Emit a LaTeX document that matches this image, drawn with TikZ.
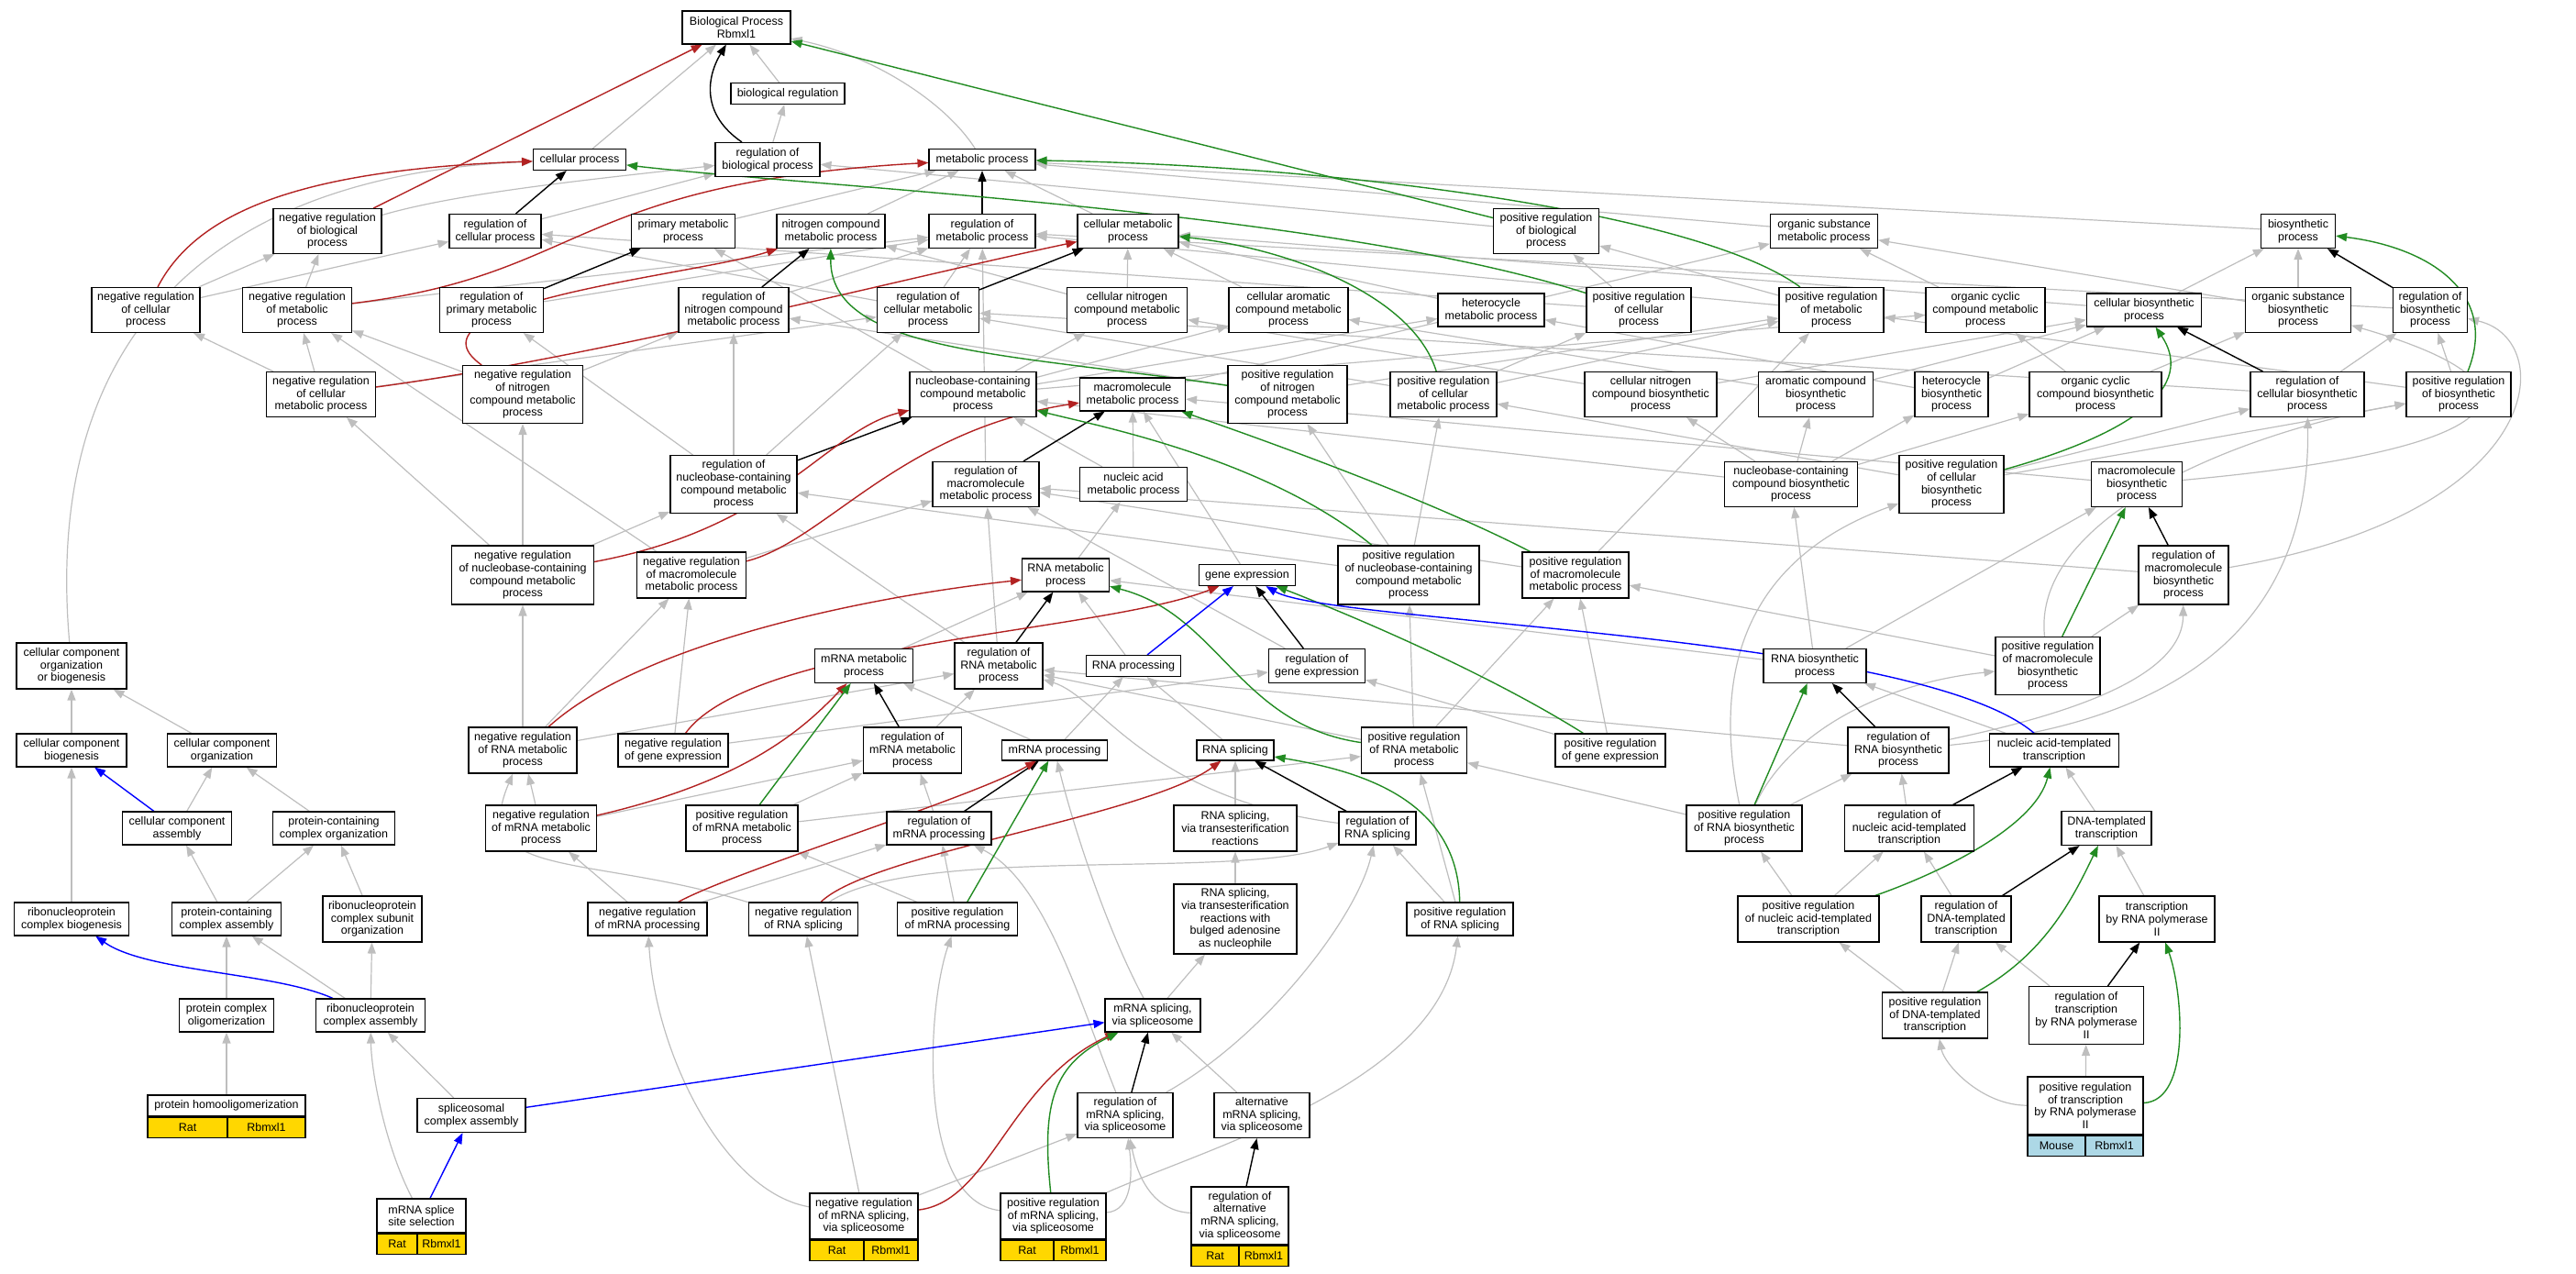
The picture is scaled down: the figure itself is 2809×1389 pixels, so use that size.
\documentclass[tikz,border=0pt]{standalone}
\usepackage{fontspec}
\setmainfont{Liberation Sans}
\usetikzlibrary{arrows.meta}
\definecolor{edgegray}{HTML}{BEBEBE}
\definecolor{negred}{HTML}{B22222}
\definecolor{posgreen}{HTML}{228B22}
\definecolor{annotgold}{HTML}{FFD700}
\definecolor{annotblue}{HTML}{ADD8E6}
\pgfdeclarelayer{edges}
\pgfsetlayers{edges,main}
\newcommand{\gofont}{\fontsize{12.5}{13.7}\selectfont}

\begin{document}
\begin{tikzpicture}[x=1pt, y=-1pt,
term/.style={draw, line width=1.1pt, fill=white, align=center, inner sep=1pt, font=\gofont},
annot/.style={draw, line width=1.1pt, fill=annotgold, inner sep=0pt, minimum height=22, font=\gofont},
isa/.style={draw=edgegray, line width=1.2pt, -{Triangle[length=12pt, width=9pt]}},
reg/.style={draw=black, line width=1.4pt, -{Triangle[length=12pt, width=9pt]}},
negreg/.style={reg, draw=negred},
posreg/.style={reg, draw=posgreen},
partof/.style={reg, draw=blue}]
\useasboundingbox (0,0) rectangle (2809,1389);

% top rows
\node[term, minimum width=118, minimum height=36] (bp) at (803,30) {Biological Process\\Rbmxl1};
\node[term, minimum width=124, minimum height=23] (breg) at (859,102) {biological regulation};
\node[term, minimum width=101, minimum height=23] (cp) at (632,174) {cellular process};
\node[term, minimum width=114, minimum height=37] (rbp) at (837,174) {regulation of\\biological process};
\node[term, minimum width=116, minimum height=23] (mp) at (1071,174) {metabolic process};

\node[term, minimum width=118, minimum height=49] (nrbp) at (357,252) {negative regulation\\of biological\\process};
\node[term, minimum width=100, minimum height=37] (rcp) at (540,252) {regulation of\\cellular process};
\node[term, minimum width=113, minimum height=37] (pmp) at (745,252) {primary metabolic\\process};
\node[term, minimum width=118, minimum height=37] (ncmp) at (906,252) {nitrogen compound\\metabolic process};
\node[term, minimum width=116, minimum height=37] (rmp) at (1071,252) {regulation of\\metabolic process};
\node[term, minimum width=110, minimum height=37] (cmp) at (1230,252) {cellular metabolic\\process};
\node[term, minimum width=115, minimum height=49] (prbp) at (1686,252) {positive regulation\\of biological\\process};
\node[term, minimum width=117, minimum height=37] (osmp) at (1989,252) {organic substance\\metabolic process};
\node[term, minimum width=81, minimum height=37] (bsp) at (2506,252) {biosynthetic\\process};

\node[term, minimum width=118, minimum height=49] (nrcp) at (159,338) {negative regulation\\of cellular\\process};
\node[term, minimum width=119, minimum height=49] (nrmp) at (324,338) {negative regulation\\of metabolic\\process};
\node[term, minimum width=113, minimum height=49] (rpmp) at (536,338) {regulation of\\primary metabolic\\process};
\node[term, minimum width=120, minimum height=49] (rncmp) at (800,338) {regulation of\\nitrogen compound\\metabolic process};
\node[term, minimum width=111, minimum height=49] (rcmp) at (1012,338) {regulation of\\cellular metabolic\\process};
\node[term, minimum width=131, minimum height=49] (cncmp) at (1229,338) {cellular nitrogen\\compound metabolic\\process};
\node[term, minimum width=130, minimum height=49] (camp) at (1405,338) {cellular aromatic\\compound metabolic\\process};
\node[term, minimum width=116, minimum height=36] (hmp) at (1626,338) {heterocycle\\metabolic process};
\node[term, minimum width=114, minimum height=49] (prcp) at (1787,338) {positive regulation\\of cellular\\process};
\node[term, minimum width=114, minimum height=49] (prmp) at (1997,338) {positive regulation\\of metabolic\\process};
\node[term, minimum width=130, minimum height=49] (occmp) at (2165,338) {organic cyclic\\compound metabolic\\process};
\node[term, minimum width=125, minimum height=36] (cbp) at (2338,338) {cellular biosynthetic\\process};
\node[term, minimum width=115, minimum height=49] (osbp) at (2506,338) {organic substance\\biosynthetic\\process};
\node[term, minimum width=81, minimum height=49] (rbsp) at (2650,338) {regulation of\\biosynthetic\\process};

\node[term, minimum width=119, minimum height=49] (nrcmp) at (350,430) {negative regulation\\of cellular\\metabolic process};
\node[term, minimum width=131, minimum height=63] (nrncmp) at (570,430) {negative regulation\\of nitrogen\\compound metabolic\\process};
\node[term, minimum width=138, minimum height=49] (nbmp) at (1061,430) {nucleobase-containing\\compound metabolic\\process};
\node[term, minimum width=115, minimum height=36] (mmp) at (1235,430) {macromolecule\\metabolic process};
\node[term, minimum width=130, minimum height=63] (prncmp) at (1404,430) {positive regulation\\of nitrogen\\compound metabolic\\process};
\node[term, minimum width=116, minimum height=49] (prcmp) at (1574,430) {positive regulation\\of cellular\\metabolic process};
\node[term, minimum width=144, minimum height=49] (cncbp) at (1800,430) {cellular nitrogen\\compound biosynthetic\\process};
\node[term, minimum width=125, minimum height=49] (acbp) at (1980,430) {aromatic compound\\biosynthetic\\process};
\node[term, minimum width=80, minimum height=49] (hbp) at (2128,430) {heterocycle\\biosynthetic\\process};
\node[term, minimum width=144, minimum height=49] (occbp) at (2285,430) {organic cyclic\\compound biosynthetic\\process};
\node[term, minimum width=124, minimum height=49] (rcbp) at (2516,430) {regulation of\\cellular biosynthetic\\process};
\node[term, minimum width=114, minimum height=49] (prbsp) at (2681,430) {positive regulation\\of biosynthetic\\process};

% middle rows
\node[term, minimum width=138, minimum height=63] (rnbmp) at (800,528) {regulation of\\nucleobase-containing\\compound metabolic\\process};
\node[term, minimum width=116, minimum height=49] (rmmp) at (1075,528) {regulation of\\macromolecule\\metabolic process};
\node[term, minimum width=117, minimum height=37] (namp) at (1236,528) {nucleic acid\\metabolic process};
\node[term, minimum width=145, minimum height=49] (nbbp) at (1953,528) {nucleobase-containing\\compound biosynthetic\\process};
\node[term, minimum width=114, minimum height=63] (prcbp) at (2128,528) {positive regulation\\of cellular\\biosynthetic\\process};
\node[term, minimum width=99, minimum height=49] (mbp) at (2330,528) {macromolecule\\biosynthetic\\process};

\node[term, minimum width=155, minimum height=64] (nrnbmp) at (570,627) {negative regulation\\of nucleobase-containing\\compound metabolic\\process};
\node[term, minimum width=119, minimum height=50] (nrmmp) at (754,627) {negative regulation\\of macromolecule\\metabolic process};
\node[term, minimum width=95, minimum height=36] (rnamp) at (1162,627) {RNA metabolic\\process};
\node[term, minimum width=105, minimum height=23] (ge) at (1360,627) {gene expression};
\node[term, minimum width=154, minimum height=64] (prnbmp) at (1536,627) {positive regulation\\of nucleobase-containing\\compound metabolic\\process};
\node[term, minimum width=116, minimum height=50] (prmmp) at (1718,627) {positive regulation\\of macromolecule\\metabolic process};
\node[term, minimum width=98, minimum height=64] (rmbp) at (2381,627) {regulation of\\macromolecule\\biosynthetic\\process};

\node[term, minimum width=120, minimum height=50] (ccob) at (78,726) {cellular component\\organization\\or biogenesis};
\node[term, minimum width=107, minimum height=37] (mrmp) at (942,726) {mRNA metabolic\\process};
\node[term, minimum width=96, minimum height=50] (rrnamp) at (1089,726) {regulation of\\RNA metabolic\\process};
\node[term, minimum width=103, minimum height=23] (rnap) at (1236,726) {RNA processing};
\node[term, minimum width=105, minimum height=37] (rge) at (1436,726) {regulation of\\gene expression};
\node[term, minimum width=112, minimum height=37] (rnabp) at (1979,726) {RNA biosynthetic\\process};
\node[term, minimum width=114, minimum height=63] (prmbp) at (2233,726) {positive regulation\\of macromolecule\\biosynthetic\\process};

\node[term, minimum width=120, minimum height=36] (ccb) at (78,818) {cellular component\\biogenesis};
\node[term, minimum width=119, minimum height=36] (cco) at (242,818) {cellular component\\organization};
\node[term, minimum width=118, minimum height=50] (nrrnamp) at (570,818) {negative regulation\\of RNA metabolic\\process};
\node[term, minimum width=120, minimum height=36] (nrge) at (734,818) {negative regulation\\of gene expression};
\node[term, minimum width=107, minimum height=50] (rmrmp) at (995,818) {regulation of\\mRNA metabolic\\process};
\node[term, minimum width=115, minimum height=22] (mrp) at (1150,818) {mRNA processing};
\node[term, minimum width=84, minimum height=22] (rnas) at (1347,818) {RNA splicing};
\node[term, minimum width=115, minimum height=50] (prrnamp) at (1542,818) {positive regulation\\of RNA metabolic\\process};
\node[term, minimum width=120, minimum height=36] (prge) at (1756,818) {positive regulation\\of gene expression};
\node[term, minimum width=110, minimum height=50] (rrnabp) at (2070,818) {regulation of\\RNA biosynthetic\\process};
\node[term, minimum width=141, minimum height=36] (natt) at (2240,818) {nucleic acid-templated\\transcription};

% lower rows
\node[term, minimum width=119, minimum height=36] (cca) at (193,903) {cellular component\\assembly};
\node[term, minimum width=133, minimum height=36] (pcco) at (364,903) {protein-containing\\complex organization};
\node[term, minimum width=121, minimum height=50] (nrmrmp) at (590,903) {negative regulation\\of mRNA metabolic\\process};
\node[term, minimum width=122, minimum height=50] (prmrmp) at (809,903) {positive regulation\\of mRNA metabolic\\process};
\node[term, minimum width=114, minimum height=36] (rmrp) at (1024,903) {regulation of\\mRNA processing};
\node[term, minimum width=134, minimum height=50] (rnast) at (1347,903) {RNA splicing,\\via transesterification\\reactions};
\node[term, minimum width=84, minimum height=36] (rrnas) at (1502,903) {regulation of\\RNA splicing};
\node[term, minimum width=126, minimum height=50] (prrnabp) at (1902,903) {positive regulation\\of RNA biosynthetic\\process};
\node[term, minimum width=141, minimum height=50] (rnatt) at (2082,903) {regulation of\\nucleic acid-templated\\transcription};
\node[term, minimum width=98, minimum height=37] (dtt) at (2297,903) {DNA-templated\\transcription};

\node[term, minimum width=125, minimum height=36] (rnpcb) at (78,1002) {ribonucleoprotein\\complex biogenesis};
\node[term, minimum width=119, minimum height=36] (pcca) at (247,1002) {protein-containing\\complex assembly};
\node[term, minimum width=108, minimum height=50] (rnpcso) at (406,1002) {ribonucleoprotein\\complex subunit\\organization};
\node[term, minimum width=130, minimum height=36] (nrmrp) at (706,1002) {negative regulation\\of mRNA processing};
\node[term, minimum width=119, minimum height=36] (nrrnas) at (876,1002) {negative regulation\\of RNA splicing};
\node[term, minimum width=131, minimum height=36] (prmrp) at (1044,1002) {positive regulation\\of mRNA processing};
\node[term, minimum width=134, minimum height=76] (rnasb) at (1347,1002) {RNA splicing,\\via transesterification\\reactions with\\bulged adenosine\\as nucleophile};
\node[term, minimum width=116, minimum height=36] (prrnas) at (1592,1002) {positive regulation\\of RNA splicing};
\node[term, minimum width=154, minimum height=50] (prnatt) at (1972,1002) {positive regulation\\of nucleic acid-templated\\transcription};
\node[term, minimum width=98, minimum height=50] (rdtt) at (2144,1002) {regulation of\\DNA-templated\\transcription};
\node[term, minimum width=126, minimum height=50] (trp) at (2352,1002) {transcription\\by RNA polymerase\\II};

\node[term, minimum width=103, minimum height=36] (pco) at (247,1107) {protein complex\\oligomerization};
\node[term, minimum width=119, minimum height=36] (rnpca) at (404,1107) {ribonucleoprotein\\complex assembly};
\node[term, minimum width=104, minimum height=36] (mss) at (1257,1107) {mRNA splicing,\\via spliceosome};
\node[term, minimum width=115, minimum height=50] (prdtt) at (2110,1107) {positive regulation\\of DNA-templated\\transcription};
\node[term, minimum width=125, minimum height=63] (rtrp) at (2275,1107) {regulation of\\transcription\\by RNA polymerase\\II};

\node[term, minimum width=118, minimum height=37] (sca) at (514,1216) {spliceosomal\\complex assembly};
\node[term, minimum width=104, minimum height=49] (rmss) at (1227,1216) {regulation of\\mRNA splicing,\\via spliceosome};
\node[term, minimum width=104, minimum height=49] (amss) at (1376,1216) {alternative\\mRNA splicing,\\via spliceosome};

% annotated terms
\node[term, minimum width=172, minimum height=23] (pho) at (247,1205.5) {protein homooligomerization};
\node[annot, anchor=north west, minimum width=87] (phoA) at (pho.south west) {Rat};
\node[annot, anchor=north east, minimum width=85] (phoB) at (pho.south east) {Rbmxl1};

\node[term, minimum width=97, minimum height=37] (msss) at (459.5,1325.5) {mRNA splice\\site selection};
\node[annot, anchor=north west, minimum width=44] (msssA) at (msss.south west) {Rat};
\node[annot, anchor=north east, minimum width=53] (msssB) at (msss.south east) {Rbmxl1};

\node[term, minimum width=118, minimum height=50] (nrmss) at (942,1326) {negative regulation\\of mRNA splicing,\\via spliceosome};
\node[annot, anchor=north west, minimum width=59] (nrmssA) at (nrmss.south west) {Rat};
\node[annot, anchor=north east, minimum width=59] (nrmssB) at (nrmss.south east) {Rbmxl1};

\node[term, minimum width=115, minimum height=50] (prmss) at (1148.5,1326) {positive regulation\\of mRNA splicing,\\via spliceosome};
\node[annot, anchor=north west, minimum width=58] (prmssA) at (prmss.south west) {Rat};
\node[annot, anchor=north east, minimum width=57] (prmssB) at (prmss.south east) {Rbmxl1};

\node[term, minimum width=106, minimum height=63] (rams) at (1352,1325.5) {regulation of\\alternative\\mRNA splicing,\\via spliceosome};
\node[annot, anchor=north west, minimum width=52] (ramsA) at (rams.south west) {Rat};
\node[annot, anchor=north east, minimum width=54] (ramsB) at (rams.south east) {Rbmxl1};

\node[term, minimum width=126, minimum height=63] (prtrp) at (2274,1205.5) {positive regulation\\of transcription\\by RNA polymerase\\II};
\node[annot, fill=annotblue, anchor=north west, minimum width=63] (prtrpA) at (prtrp.south west) {Mouse};
\node[annot, fill=annotblue, anchor=north east, minimum width=63] (prtrpB) at (prtrp.south east) {Rbmxl1};

\begin{pgfonlayer}{edges}
% is_a
\draw[isa] (breg) -- (bp);
\draw[isa] (cp) -- (bp);
\draw[isa] (mp) .. controls (1030,110) and (950,60) .. (bp);
\draw[isa] (rbp) -- (breg);
\draw[isa] (nrbp) .. controls (500,210) and (650,195) .. (rbp);
\draw[isa] (rcp) -- (rbp);
\draw[isa] (ccob) .. controls (45,350) and (250,190) .. (cp);
\draw[isa] (pmp) -- (mp);
\draw[isa] (ncmp) -- (mp);
\draw[isa] (cmp) -- (mp);
\draw[isa] (osmp) -- (mp);
\draw[isa] (bsp) -- (mp);
\draw[isa] (nrcp) -- (nrbp);
\draw[isa] (nrcp) -- (rcp);
\draw[isa] (nrmp) -- (nrbp);
\draw[isa] (nrmp) -- (rmp);
\draw[isa] (rpmp) -- (rmp);
\draw[isa] (rncmp) -- (rmp);
\draw[isa] (rcmp) -- (rmp);
\draw[isa] (rcmp) -- (rcp);
\draw[isa] (prbp) -- (rbp);
\draw[isa] (prcp) -- (rcp);
\draw[isa] (prcp) -- (prbp);
\draw[isa] (prmp) -- (rmp);
\draw[isa] (prmp) -- (prbp);
\draw[isa] (rbsp) -- (rmp);
\draw[isa] (nrcmp) -- (nrcp);
\draw[isa] (nrcmp) -- (nrmp);
\draw[isa] (nrcmp) -- (rcmp);
\draw[isa] (nrncmp) -- (nrmp);
\draw[isa] (nrncmp) -- (rncmp);
\draw[isa] (cncmp) -- (cmp);
\draw[isa] (cncmp) -- (ncmp);
\draw[isa] (camp) -- (cmp);
\draw[isa] (hmp) -- (cmp);
\draw[isa] (occmp) -- (osmp);
\draw[isa] (cbp) -- (bsp);
\draw[isa] (cbp) -- (cmp);
\draw[isa] (osbp) -- (bsp);
\draw[isa] (osbp) -- (osmp);
\draw[isa] (nbmp) -- (cncmp);
\draw[isa] (nbmp) -- (camp);
\draw[isa] (nbmp) -- (hmp);
\draw[isa] (nbmp) -- (occmp);
\draw[isa] (nbmp) -- (pmp);
\draw[isa] (mmp) -- (osmp);
\draw[isa] (prncmp) -- (rncmp);
\draw[isa] (prncmp) -- (prmp);
\draw[isa] (prcmp) -- (prcp);
\draw[isa] (prcmp) -- (rcmp);
\draw[isa] (prcmp) -- (prmp);
\draw[isa] (cncbp) -- (cncmp);
\draw[isa] (cncbp) -- (cbp);
\draw[isa] (acbp) -- (camp);
\draw[isa] (acbp) -- (cbp);
\draw[isa] (hbp) -- (hmp);
\draw[isa] (hbp) -- (cbp);
\draw[isa] (occbp) -- (occmp);
\draw[isa] (occbp) -- (osbp);
\draw[isa] (rcbp) -- (rbsp);
\draw[isa] (rcbp) -- (rcmp);
\draw[isa] (prbsp) -- (rbsp);
\draw[isa] (prbsp) -- (prmp);
\draw[isa] (rnbmp) -- (rncmp);
\draw[isa] (rnbmp) -- (rpmp);
\draw[isa] (rnbmp) -- (rcmp);
\draw[isa] (rmmp) -- (rmp);
\draw[isa] (namp) -- (nbmp);
\draw[isa] (namp) -- (mmp);
\draw[isa] (nbbp) -- (nbmp);
\draw[isa] (nbbp) -- (cncbp);
\draw[isa] (nbbp) -- (acbp);
\draw[isa] (nbbp) -- (hbp);
\draw[isa] (nbbp) -- (occbp);
\draw[isa] (prcbp) -- (rcbp);
\draw[isa] (prcbp) -- (prcmp);
\draw[isa] (prcbp) -- (prbsp);
\draw[isa] (mbp) -- (mmp);
\draw[isa] (mbp) .. controls (2750,490) and (2790,420) .. (osbp);
\draw[isa] (nrnbmp) -- (rnbmp);
\draw[isa] (nrnbmp) -- (nrcmp);
\draw[isa] (nrnbmp) -- (nrncmp);
\draw[isa] (nrmmp) -- (rmmp);
\draw[isa] (nrmmp) -- (nrmp);
\draw[isa] (rnamp) -- (namp);
\draw[isa] (ge) -- (mmp);
\draw[isa] (prnbmp) -- (rnbmp);
\draw[isa] (prnbmp) -- (prcmp);
\draw[isa] (prnbmp) -- (prncmp);
\draw[isa] (prmmp) -- (rmmp);
\draw[isa] (prmmp) -- (prmp);
\draw[isa] (rmbp) -- (rmmp);
\draw[isa] (rmbp) .. controls (2780,560) and (2790,370) .. (rbsp);
\draw[isa] (ccb) -- (ccob);
\draw[isa] (cco) -- (ccob);
\draw[isa] (mrmp) -- (rnamp);
\draw[isa] (rrnamp) -- (rnbmp);
\draw[isa] (rrnamp) -- (rmmp);
\draw[isa] (rnap) -- (rnamp);
\draw[isa] (rge) -- (rmmp);
\draw[isa] (rnabp) -- (nbbp);
\draw[isa] (rnabp) -- (rnamp);
\draw[isa] (rnabp) -- (mbp);
\draw[isa] (prmbp) -- (rmbp);
\draw[isa] (prmbp) -- (prmmp);
\draw[isa] (prmbp) .. controls (2215,560) and (2450,470) .. (prbsp);
\draw[isa] (nrrnamp) -- (rrnamp);
\draw[isa] (nrrnamp) -- (nrnbmp);
\draw[isa] (nrrnamp) -- (nrmmp);
\draw[isa] (nrge) -- (rge);
\draw[isa] (nrge) -- (nrmmp);
\draw[isa] (rmrmp) -- (rrnamp);
\draw[isa] (mrp) -- (mrmp);
\draw[isa] (mrp) -- (rnap);
\draw[isa] (rnas) -- (rnap);
\draw[isa] (prrnamp) -- (rrnamp);
\draw[isa] (prrnamp) -- (prnbmp);
\draw[isa] (prrnamp) -- (prmmp);
\draw[isa] (prge) -- (rge);
\draw[isa] (prge) -- (prmmp);
\draw[isa] (rrnabp) -- (rrnamp);
\draw[isa] (rrnabp) .. controls (2250,780) and (2380,740) .. (rmbp);
\draw[isa] (rrnabp) .. controls (2350,790) and (2520,700) .. (rcbp);
\draw[isa] (natt) -- (rnabp);
\draw[isa] (cca) -- (cco);
\draw[isa] (pcco) -- (cco);
\draw[isa] (nrmrmp) -- (nrrnamp);
\draw[isa] (nrmrmp) -- (rmrmp);
\draw[isa] (prmrmp) -- (rmrmp);
\draw[isa] (prmrmp) -- (prrnamp);
\draw[isa] (rmrp) -- (rmrmp);
\draw[isa] (rnast) -- (rnas);
\draw[isa] (rrnas) .. controls (1250,870) and (1200,760) .. (rrnamp);
\draw[isa] (prrnabp) -- (rrnabp);
\draw[isa] (prrnabp) -- (prrnamp);
\draw[isa] (prrnabp) .. controls (1860,700) and (1930,600) .. (prcbp);
\draw[isa] (prrnabp) .. controls (1950,800) and (2050,745) .. (prmbp);
\draw[isa] (rnatt) -- (rrnabp);
\draw[isa] (dtt) -- (natt);
\draw[isa] (rnpcb) -- (ccb);
\draw[isa] (pcca) -- (cca);
\draw[isa] (pcca) -- (pcco);
\draw[isa] (rnpcso) -- (pcco);
\draw[isa] (nrmrp) -- (nrmrmp);
\draw[isa] (nrmrp) -- (rmrp);
\draw[isa] (nrrnas) .. controls (640,930) and (510,960) .. (nrrnamp);
\draw[isa] (nrrnas) .. controls (1000,920) and (1350,960) .. (rrnas);
\draw[isa] (prmrp) -- (rmrp);
\draw[isa] (prmrp) -- (prmrmp);
\draw[isa] (rnasb) -- (rnast);
\draw[isa] (prrnas) -- (rrnas);
\draw[isa] (prrnas) -- (prrnamp);
\draw[isa] (prnatt) -- (rnatt);
\draw[isa] (prnatt) -- (prrnabp);
\draw[isa] (rdtt) -- (rnatt);
\draw[isa] (trp) -- (dtt);
\draw[isa] (pco) -- (pcca);
\draw[isa] (rnpca) -- (pcca);
\draw[isa] (rnpca) -- (rnpcso);
\draw[isa] (mss) -- (rnasb);
\draw[isa] (mss) .. controls (1200,1000) and (1165,880) .. (mrp);
\draw[isa] (prdtt) -- (prnatt);
\draw[isa] (prdtt) -- (rdtt);
\draw[isa] (rtrp) -- (rdtt);
\draw[isa] (pho) -- (pco);
\draw[isa] (sca) -- (rnpca);
\draw[isa] (msss) .. controls (420,1250) and (405,1170) .. (rnpca);
\draw[isa] (rmss) .. controls (1380,1130) and (1480,1000) .. (rrnas);
\draw[isa] (rmss) .. controls (1180,1100) and (1140,960) .. (rmrp);
\draw[isa] (amss) -- (mss);
\draw[isa] (nrmss) -- (nrrnas);
\draw[isa] (nrmss) -- (rmss);
\draw[isa] (nrmss) .. controls (790,1300) and (715,1150) .. (nrmrp);
\draw[isa] (prmss) .. controls (1000,1310) and (1010,1100) .. (prmrp);
\draw[isa] (prmss) .. controls (1235,1320) and (1235,1280) .. (rmss);
\draw[isa] (prmss) .. controls (1320,1250) and (1570,1180) .. (prrnas);
\draw[isa] (rams) .. controls (1255,1320) and (1240,1280) .. (rmss);
\draw[isa] (prtrp) -- (rtrp);
\draw[isa] (prtrp) .. controls (2160,1205) and (2120,1160) .. (prdtt);

% regulates
\draw[reg] (rbp) .. controls (765,125) and (770,85) .. (bp);
\draw[reg] (rcp) -- (cp);
\draw[reg] (rmp) -- (mp);
\draw[reg] (rpmp) -- (pmp);
\draw[reg] (rncmp) -- (ncmp);
\draw[reg] (rcmp) -- (cmp);
\draw[reg] (rnbmp) -- (nbmp);
\draw[reg] (rmmp) -- (mmp);
\draw[reg] (rrnamp) -- (rnamp);
\draw[reg] (rge) -- (ge);
\draw[reg] (rmrmp) -- (mrmp);
\draw[reg] (rmrp) -- (mrp);
\draw[reg] (rrnas) -- (rnas);
\draw[reg] (rmss) -- (mss);
\draw[reg] (rams) -- (amss);
\draw[reg] (rbsp) -- (bsp);
\draw[reg] (rcbp) -- (cbp);
\draw[reg] (rmbp) -- (mbp);
\draw[reg] (rrnabp) -- (rnabp);
\draw[reg] (rnatt) -- (natt);
\draw[reg] (rdtt) -- (dtt);
\draw[reg] (rtrp) -- (trp);

% negatively regulates
\draw[negreg] (nrbp) -- (bp);
\draw[negreg] (nrcp) .. controls (215,230) and (330,185) .. (cp);
\draw[negreg] (nrmp) .. controls (640,300) and (620,200) .. (mp);
\draw[negreg] (nrcmp) .. controls (650,390) and (1000,300) .. (cmp);
\draw[negreg] (nrncmp) .. controls (430,330) and (760,300) .. (ncmp);
\draw[negreg] (nrnbmp) .. controls (850,575) and (900,470) .. (nbmp);
\draw[negreg] (nrmmp) .. controls (900,590) and (980,470) .. (mmp);
\draw[negreg] (nrrnamp) .. controls (700,700) and (950,650) .. (rnamp);
\draw[negreg] (nrge) .. controls (820,700) and (1200,690) .. (ge);
\draw[negreg] (nrmrmp) .. controls (820,850) and (880,790) .. (mrmp);
\draw[negreg] (nrmrp) .. controls (800,950) and (1060,870) .. (mrp);
\draw[negreg] (nrrnas) .. controls (950,930) and (1250,890) .. (rnas);
\draw[negreg] (nrmss) .. controls (1080,1310) and (1100,1180) .. (mss);

% positively regulates
\draw[posreg] (prbp) -- (bp);
\draw[posreg] (prcp) .. controls (1450,230) and (900,205) .. (cp);
\draw[posreg] (prmp) .. controls (1850,230) and (1450,180) .. (mp);
\draw[posreg] (prcmp) .. controls (1540,320) and (1400,270) .. (cmp);
\draw[posreg] (prncmp) .. controls (1100,385) and (905,385) .. (ncmp);
\draw[posreg] (prnbmp) .. controls (1380,500) and (1200,465) .. (nbmp);
\draw[posreg] (prmmp) .. controls (1550,540) and (1350,470) .. (mmp);
\draw[posreg] (prrnamp) .. controls (1350,790) and (1330,670) .. (rnamp);
\draw[posreg] (prge) .. controls (1600,720) and (1420,650) .. (ge);
\draw[posreg] (prmrmp) -- (mrmp);
\draw[posreg] (prmrp) -- (mrp);
\draw[posreg] (prrnas) .. controls (1590,870) and (1480,840) .. (rnas);
\draw[posreg] (prmss) .. controls (1135,1200) and (1150,1160) .. (mss);
\draw[posreg] (prcbp) .. controls (2300,480) and (2400,430) .. (cbp);
\draw[posreg] (prbsp) .. controls (2725,320) and (2650,270) .. (bsp);
\draw[posreg] (prmbp) -- (mbp);
\draw[posreg] (prrnabp) -- (rnabp);
\draw[posreg] (prnatt) .. controls (2120,950) and (2220,900) .. (natt);
\draw[posreg] (prdtt) .. controls (2230,1040) and (2260,980) .. (dtt);
\draw[posreg] (prtrp) .. controls (2390,1200) and (2380,1080) .. (trp);

% part_of
\draw[partof] (rnap) -- (ge);
\draw[partof] (natt) .. controls (2090,690) and (1450,680) .. (ge);
\draw[partof] (cca) -- (ccb);
\draw[partof] (rnpca) .. controls (300,1060) and (160,1060) .. (rnpcb);
\draw[partof] (sca) -- (mss);
\draw[partof] (msss) -- (sca);
\end{pgfonlayer}
\end{tikzpicture}
\end{document}
